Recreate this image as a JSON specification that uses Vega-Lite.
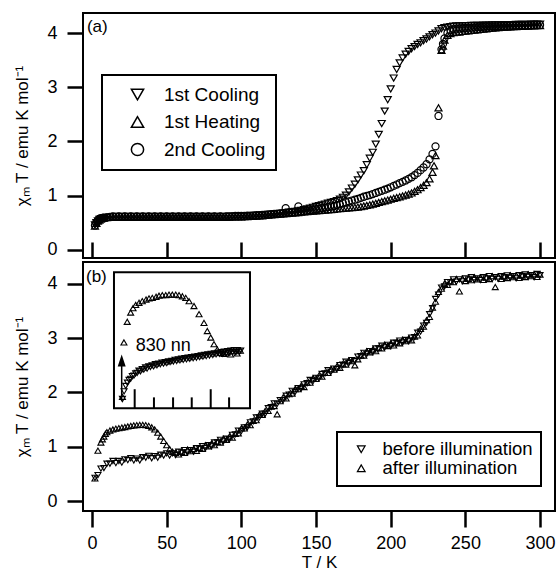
{
"$schema": "https://vega.github.io/schema/vega-lite/v6.json",
"padding": {"left": 12, "top": 12, "right": 0, "bottom": 0},
"background": "white",
"config": {
  "font": "Liberation Sans",
  "view": {"stroke": "black", "strokeWidth": 2},
  "axis": {"domain": false, "grid": false, "tickColor": "black", "tickWidth": 2.5, "tickSize": 16, "labelFontSize": 18, "labelColor": "black", "labelFont": "Liberation Sans", "titleFont": "Liberation Sans", "titleFontSize": 17, "titleFontWeight": "normal", "titleColor": "black", "format": "d"},
  "legend": {"strokeColor": "black", "strokeWidth": 2, "labelColor": "black", "labelFont": "Liberation Sans"}
},
"datasets": {
"a": [
{"T":2,"c1":0.46,"h1":0.44,"c2":0.45},
{"T":3,"c1":0.50,"h1":0.49,"c2":0.51},
{"T":4,"c1":0.535,"h1":0.53,"c2":0.54},
{"T":5,"c1":0.56,"h1":0.55,"c2":0.56},
{"T":6,"c1":0.575,"h1":0.57,"c2":0.58},
{"T":7,"c1":0.585,"h1":0.58,"c2":0.59},
{"T":8,"c1":0.59,"h1":0.585,"c2":0.595},
{"T":10,"c1":0.6,"h1":0.595,"c2":0.6},
{"T":12,"c1":0.605,"h1":0.6,"c2":0.61},
{"T":14,"c1":0.61,"h1":0.6,"c2":0.62},
{"T":16,"c1":0.615,"h1":0.605,"c2":0.61},
{"T":18,"c1":0.61,"h1":0.6,"c2":0.62},
{"T":20,"c1":0.615,"h1":0.605,"c2":0.61},
{"T":22,"c1":0.61,"h1":0.6,"c2":0.62},
{"T":24,"c1":0.615,"h1":0.605,"c2":0.61},
{"T":26,"c1":0.61,"h1":0.6,"c2":0.62},
{"T":28,"c1":0.615,"h1":0.605,"c2":0.61},
{"T":30,"c1":0.61,"h1":0.6,"c2":0.62},
{"T":32,"c1":0.615,"h1":0.605,"c2":0.61},
{"T":34,"c1":0.61,"h1":0.6,"c2":0.62},
{"T":36,"c1":0.615,"h1":0.605,"c2":0.61},
{"T":38,"c1":0.61,"h1":0.6,"c2":0.62},
{"T":40,"c1":0.615,"h1":0.605,"c2":0.61},
{"T":42,"c1":0.61,"h1":0.6,"c2":0.62},
{"T":44,"c1":0.615,"h1":0.605,"c2":0.61},
{"T":46,"c1":0.61,"h1":0.6,"c2":0.62},
{"T":48,"c1":0.615,"h1":0.605,"c2":0.61},
{"T":50,"c1":0.61,"h1":0.6,"c2":0.62},
{"T":52,"c1":0.615,"h1":0.605,"c2":0.61},
{"T":54,"c1":0.61,"h1":0.6,"c2":0.62},
{"T":56,"c1":0.615,"h1":0.605,"c2":0.61},
{"T":58,"c1":0.61,"h1":0.6,"c2":0.62},
{"T":60,"c1":0.615,"h1":0.605,"c2":0.61},
{"T":62,"c1":0.61,"h1":0.6,"c2":0.62},
{"T":64,"c1":0.615,"h1":0.605,"c2":0.61},
{"T":66,"c1":0.61,"h1":0.6,"c2":0.62},
{"T":68,"c1":0.615,"h1":0.605,"c2":0.61},
{"T":70,"c1":0.61,"h1":0.6,"c2":0.62},
{"T":72,"c1":0.615,"h1":0.605,"c2":0.61},
{"T":74,"c1":0.61,"h1":0.6,"c2":0.62},
{"T":76,"c1":0.615,"h1":0.605,"c2":0.61},
{"T":78,"c1":0.61,"h1":0.6,"c2":0.62},
{"T":80,"c1":0.615,"h1":0.605,"c2":0.61},
{"T":82,"c1":0.61,"h1":0.6,"c2":0.62},
{"T":84,"c1":0.615,"h1":0.605,"c2":0.61},
{"T":86,"c1":0.61,"h1":0.6,"c2":0.62},
{"T":88,"c1":0.615,"h1":0.605,"c2":0.61},
{"T":90,"c1":0.61,"h1":0.6,"c2":0.62},
{"T":92,"c1":0.615,"h1":0.605,"c2":0.62},
{"T":94,"c1":0.615,"h1":0.61,"c2":0.62},
{"T":96,"c1":0.62,"h1":0.61,"c2":0.625},
{"T":98,"c1":0.62,"h1":0.61,"c2":0.625},
{"T":100,"c1":0.62,"h1":0.61,"c2":0.625},
{"T":102,"c1":0.62,"h1":0.615,"c2":0.625},
{"T":104,"c1":0.625,"h1":0.615,"c2":0.63},
{"T":106,"c1":0.625,"h1":0.62,"c2":0.63},
{"T":108,"c1":0.63,"h1":0.62,"c2":0.635},
{"T":110,"c1":0.63,"h1":0.625,"c2":0.64},
{"T":112,"c1":0.635,"h1":0.63,"c2":0.64},
{"T":114,"c1":0.64,"h1":0.63,"c2":0.645},
{"T":116,"c1":0.645,"h1":0.635,"c2":0.65},
{"T":118,"c1":0.65,"h1":0.64,"c2":0.655},
{"T":120,"c1":0.655,"h1":0.645,"c2":0.66},
{"T":122,"c1":0.66,"h1":0.65,"c2":0.665},
{"T":124,"c1":0.665,"h1":0.655,"c2":0.67},
{"T":126,"c1":0.67,"h1":0.66,"c2":0.675},
{"T":128,"c1":0.675,"h1":0.665,"c2":0.68},
{"T":129.7,"c2":0.77},
{"T":130,"c1":0.68,"h1":0.67,"c2":0.685},
{"T":132,"c1":0.69,"h1":0.675,"c2":0.69},
{"T":134,"c1":0.70,"h1":0.68,"c2":0.695},
{"T":136,"c1":0.71,"h1":0.685,"c2":0.70},
{"T":138,"c1":0.72,"h1":0.69,"c2":0.705},
{"T":138.2,"c2":0.80},
{"T":140,"c1":0.73,"h1":0.695,"c2":0.71},
{"T":142,"c1":0.74,"h1":0.70,"c2":0.715},
{"T":144,"c1":0.755,"h1":0.705,"c2":0.72},
{"T":146,"c1":0.77,"h1":0.71,"c2":0.73},
{"T":148,"c1":0.785,"h1":0.715,"c2":0.74},
{"T":150,"c1":0.80,"h1":0.72,"c2":0.75},
{"T":152,"c1":0.815,"h1":0.725,"c2":0.76},
{"T":154,"c1":0.83,"h1":0.73,"c2":0.77},
{"T":156,"c1":0.845,"h1":0.735,"c2":0.78},
{"T":158,"c1":0.86,"h1":0.74,"c2":0.79},
{"T":160,"c1":0.875,"h1":0.745,"c2":0.80},
{"T":162,"c1":0.89,"h1":0.75,"c2":0.81},
{"T":164,"c1":0.91,"h1":0.755,"c2":0.825},
{"T":166,"c1":0.935,"h1":0.76,"c2":0.84},
{"T":168,"c1":0.97,"h1":0.765,"c2":0.86},
{"T":170,"c1":1.01,"h1":0.77,"c2":0.88},
{"T":172,"c1":1.07,"h1":0.775,"c2":0.895},
{"T":174,"c1":1.14,"h1":0.78,"c2":0.91},
{"T":176,"c1":1.21,"h1":0.785,"c2":0.925},
{"T":178,"c1":1.29,"h1":0.79,"c2":0.94},
{"T":180,"c1":1.38,"h1":0.80,"c2":0.96},
{"T":182,"c1":1.46,"h1":0.81,"c2":0.98},
{"T":184,"c1":1.57,"h1":0.82,"c2":0.995},
{"T":186,"c1":1.69,"h1":0.83,"c2":1.01},
{"T":188,"c1":1.80,"h1":0.845,"c2":1.03},
{"T":190,"c1":1.95,"h1":0.86,"c2":1.05},
{"T":192,"c1":2.13,"h1":0.875,"c2":1.07},
{"T":194,"c1":2.33,"h1":0.89,"c2":1.09},
{"T":196,"c1":2.56,"h1":0.905,"c2":1.11},
{"T":198,"c1":2.77,"h1":0.92,"c2":1.13},
{"T":200,"c1":2.97,"h1":0.935,"c2":1.155},
{"T":202,"c1":3.17,"h1":0.95,"c2":1.18},
{"T":204,"c1":3.33,"h1":0.965,"c2":1.205},
{"T":206,"c1":3.45,"h1":0.98,"c2":1.23},
{"T":208,"c1":3.54,"h1":0.995,"c2":1.255},
{"T":210,"c1":3.61,"h1":1.01,"c2":1.28},
{"T":212,"c1":3.66,"h1":1.03,"c2":1.31},
{"T":214,"c1":3.71,"h1":1.05,"c2":1.34},
{"T":216,"c1":3.75,"h1":1.08,"c2":1.38},
{"T":218,"c1":3.79,"h1":1.11,"c2":1.42},
{"T":220,"c1":3.82,"h1":1.15,"c2":1.47},
{"T":222,"c1":3.86,"h1":1.19,"c2":1.52},
{"T":224,"c1":3.89,"h1":1.24,"c2":1.58},
{"T":226,"c1":3.93,"h1":1.31,"c2":1.67},
{"T":228,"c1":3.97,"h1":1.43,"c2":1.77},
{"T":229,"h1":1.55},
{"T":230,"c1":4.00,"h1":1.74,"c2":1.91},
{"T":232,"c1":4.04,"h1":2.62,"c2":2.47},
{"T":234,"c1":4.08,"h1":3.68,"c2":3.70},
{"T":235,"h1":3.76,"c2":3.80},
{"T":236,"c1":4.10,"h1":3.87,"c2":3.90},
{"T":238,"c1":4.11,"h1":3.96,"c2":4.00},
{"T":240,"c1":4.12,"h1":3.99,"c2":4.05},
{"T":242,"c1":4.125,"h1":4.01,"c2":4.07},
{"T":244,"c1":4.13,"h1":4.02,"c2":4.08},
{"T":246,"c1":4.13,"h1":4.02,"c2":4.085},
{"T":248,"c1":4.13,"h1":4.03,"c2":4.09},
{"T":250,"c1":4.135,"h1":4.035,"c2":4.095},
{"T":252,"c1":4.135,"h1":4.04,"c2":4.10},
{"T":254,"c1":4.14,"h1":4.05,"c2":4.10},
{"T":256,"c1":4.14,"h1":4.055,"c2":4.105},
{"T":258,"c1":4.14,"h1":4.06,"c2":4.11},
{"T":260,"c1":4.14,"h1":4.07,"c2":4.11},
{"T":262,"c1":4.145,"h1":4.075,"c2":4.115},
{"T":264,"c1":4.145,"h1":4.08,"c2":4.12},
{"T":266,"c1":4.145,"h1":4.085,"c2":4.12},
{"T":268,"c1":4.15,"h1":4.09,"c2":4.12},
{"T":270,"c1":4.15,"h1":4.095,"c2":4.125},
{"T":272,"c1":4.15,"h1":4.10,"c2":4.125},
{"T":274,"c1":4.15,"h1":4.105,"c2":4.13},
{"T":276,"c1":4.155,"h1":4.11,"c2":4.13},
{"T":278,"c1":4.155,"h1":4.11,"c2":4.13},
{"T":280,"c1":4.155,"h1":4.115,"c2":4.135},
{"T":282,"c1":4.155,"h1":4.12,"c2":4.135},
{"T":284,"c1":4.16,"h1":4.12,"c2":4.14},
{"T":286,"c1":4.16,"h1":4.125,"c2":4.14},
{"T":288,"c1":4.16,"h1":4.125,"c2":4.14},
{"T":290,"c1":4.16,"h1":4.13,"c2":4.145},
{"T":292,"c1":4.16,"h1":4.13,"c2":4.145},
{"T":294,"c1":4.165,"h1":4.135,"c2":4.145},
{"T":296,"c1":4.165,"h1":4.135,"c2":4.15},
{"T":298,"c1":4.165,"h1":4.14,"c2":4.15},
{"T":300,"c1":4.165,"h1":4.14,"c2":4.15}
],
"b": [
{"T":2,"bf":0.43,"af":0.42},
{"T":4,"bf":0.48,"af":0.93},
{"T":6,"bf":0.60,"af":1.08},
{"T":7,"af":1.14},
{"T":8,"bf":0.61,"af":1.19},
{"T":9,"af":1.24},
{"T":10,"bf":0.69,"af":1.27},
{"T":12,"bf":0.69,"af":1.30},
{"T":14,"bf":0.74,"af":1.32},
{"T":16,"bf":0.70,"af":1.335},
{"T":18,"bf":0.74,"af":1.345},
{"T":20,"bf":0.71,"af":1.355},
{"T":22,"bf":0.77,"af":1.365},
{"T":24,"bf":0.755,"af":1.375},
{"T":26,"bf":0.79,"af":1.385},
{"T":28,"bf":0.75,"af":1.395},
{"T":30,"bf":0.785,"af":1.40},
{"T":32,"bf":0.75,"af":1.405},
{"T":34,"bf":0.81,"af":1.405},
{"T":36,"bf":0.80,"af":1.40},
{"T":38,"bf":0.835,"af":1.385},
{"T":40,"bf":0.79,"af":1.36},
{"T":42,"bf":0.83,"af":1.32},
{"T":44,"bf":0.80,"af":1.26},
{"T":46,"bf":0.855,"af":1.19},
{"T":48,"bf":0.84,"af":1.11},
{"T":50,"bf":0.88,"af":1.03},
{"T":52,"bf":0.84,"af":0.96},
{"T":54,"bf":0.88,"af":0.91},
{"T":56,"bf":0.85,"af":0.89},
{"T":58,"bf":0.91,"af":0.86},
{"T":60,"bf":0.90,"af":0.91},
{"T":62,"bf":0.94,"af":0.89},
{"T":64,"bf":0.90,"af":0.95},
{"T":66,"bf":0.94,"af":0.92},
{"T":68,"bf":0.91,"af":0.96},
{"T":70,"bf":0.975,"af":0.925},
{"T":72,"bf":0.97,"af":0.98},
{"T":74,"bf":1.015,"af":0.965},
{"T":76,"bf":0.98,"af":1.03},
{"T":78,"bf":1.03,"af":1.01},
{"T":80,"bf":1.01,"af":1.06},
{"T":82,"bf":1.08,"af":1.03},
{"T":84,"bf":1.08,"af":1.09},
{"T":86,"bf":1.13,"af":1.08},
{"T":88,"bf":1.10,"af":1.15},
{"T":90,"bf":1.15,"af":1.13},
{"T":92,"bf":1.14,"af":1.19},
{"T":94,"bf":1.22,"af":1.17},
{"T":96,"bf":1.23,"af":1.24},
{"T":98,"bf":1.30,"af":1.25},
{"T":100,"bf":1.29,"af":1.34},
{"T":102,"bf":1.36,"af":1.34},
{"T":104,"bf":1.36,"af":1.41},
{"T":106,"bf":1.45,"af":1.40},
{"T":108,"bf":1.47,"af":1.48},
{"T":110,"bf":1.54,"af":1.49},
{"T":112,"bf":1.54,"af":1.59},
{"T":114,"bf":1.61,"af":1.59},
{"T":116,"bf":1.61,"af":1.66},
{"T":118,"bf":1.71,"af":1.66},
{"T":120,"bf":1.73,"af":1.74},
{"T":122,"bf":1.80,"af":1.75},
{"T":124,"bf":1.79,"af":1.60},
{"T":126,"bf":1.86,"af":1.84},
{"T":128,"bf":1.86,"af":1.91},
{"T":130,"bf":1.94,"af":1.89},
{"T":132,"bf":1.96,"af":1.97},
{"T":134,"bf":2.03,"af":1.98},
{"T":136,"bf":2.01,"af":2.06},
{"T":138,"bf":2.08,"af":2.06},
{"T":140,"bf":2.07,"af":2.12},
{"T":142,"bf":2.15,"af":2.10},
{"T":144,"bf":2.17,"af":2.18},
{"T":146,"bf":2.23,"af":2.18},
{"T":148,"bf":2.21,"af":2.26},
{"T":150,"bf":2.27,"af":2.25},
{"T":152,"bf":2.26,"af":2.31},
{"T":154,"bf":2.34,"af":2.29},
{"T":156,"bf":2.35,"af":2.36},
{"T":158,"bf":2.41,"af":2.36},
{"T":160,"bf":2.38,"af":2.43},
{"T":162,"bf":2.44,"af":2.42},
{"T":164,"bf":2.43,"af":2.48},
{"T":166,"bf":2.505,"af":2.455},
{"T":168,"bf":2.51,"af":2.52},
{"T":170,"bf":2.565,"af":2.515},
{"T":172,"bf":2.54,"af":2.59},
{"T":174,"bf":2.595,"af":2.575},
{"T":176,"bf":2.58,"af":2.50},
{"T":178,"bf":2.66,"af":2.61},
{"T":180,"bf":2.67,"af":2.68},
{"T":182,"bf":2.73,"af":2.68},
{"T":184,"bf":2.71,"af":2.76},
{"T":186,"bf":2.76,"af":2.74},
{"T":188,"bf":2.74,"af":2.79},
{"T":190,"bf":2.81,"af":2.76},
{"T":192,"bf":2.81,"af":2.82},
{"T":194,"bf":2.86,"af":2.81},
{"T":196,"bf":2.83,"af":2.88},
{"T":198,"bf":2.875,"af":2.855},
{"T":200,"bf":2.85,"af":2.90},
{"T":202,"bf":2.915,"af":2.865},
{"T":204,"bf":2.91,"af":2.92},
{"T":206,"bf":2.955,"af":2.905},
{"T":208,"bf":2.92,"af":2.97},
{"T":210,"bf":2.965,"af":2.945},
{"T":212,"bf":2.94,"af":2.99},
{"T":214,"bf":3.01,"af":2.96},
{"T":216,"bf":3.02,"af":3.03},
{"T":218,"bf":3.10,"af":3.05},
{"T":220,"bf":3.12,"af":3.17},
{"T":222,"bf":3.23,"af":3.21},
{"T":224,"bf":3.28,"af":3.33},
{"T":226,"bf":3.44,"af":3.39},
{"T":228,"bf":3.55,"af":3.56},
{"T":230,"bf":3.72,"af":3.67},
{"T":232,"bf":3.80,"af":3.85},
{"T":234,"bf":3.93,"af":3.91},
{"T":236,"bf":3.95,"af":4.00},
{"T":238,"bf":4.03,"af":3.98},
{"T":240,"bf":4.03,"af":4.04},
{"T":242,"bf":4.08,"af":4.03},
{"T":244,"bf":4.04,"af":4.09},
{"T":246,"bf":4.08,"af":3.86},
{"T":248,"bf":4.045,"af":4.095},
{"T":250,"bf":4.10,"af":4.05},
{"T":252,"bf":4.08,"af":4.09},
{"T":254,"bf":4.12,"af":4.066},
{"T":256,"bf":4.07,"af":4.12},
{"T":258,"bf":4.10,"af":4.083},
{"T":260,"bf":4.07,"af":4.116},
{"T":262,"bf":4.12,"af":4.07},
{"T":264,"bf":4.10,"af":4.112},
{"T":266,"bf":4.14,"af":4.086},
{"T":268,"bf":4.09,"af":4.139},
{"T":270,"bf":4.12,"af":3.94},
{"T":272,"bf":4.09,"af":4.135},
{"T":274,"bf":4.14,"af":4.088},
{"T":276,"bf":4.12,"af":4.132},
{"T":278,"bf":4.155,"af":4.105},
{"T":280,"bf":4.11,"af":4.158},
{"T":282,"bf":4.14,"af":4.121},
{"T":284,"bf":4.10,"af":4.154},
{"T":286,"bf":4.16,"af":4.108},
{"T":288,"bf":4.14,"af":4.151},
{"T":290,"bf":4.17,"af":4.124},
{"T":292,"bf":4.13,"af":4.177},
{"T":294,"bf":4.16,"af":4.14},
{"T":296,"bf":4.12,"af":4.174},
{"T":298,"bf":4.18,"af":4.127},
{"T":300,"bf":4.16,"af":4.17}
],
"ins": [
{"T":20.4,"v":1.92,"k":"af"},
{"T":21.4,"v":2.92,"k":"af"},
{"T":23.6,"v":3.30,"k":"af"},
{"T":25.9,"v":3.47,"k":"af"},
{"T":27.5,"v":3.55,"k":"af"},
{"T":29.3,"v":3.61,"k":"af"},
{"T":31.5,"v":3.65,"k":"af"},
{"T":33.7,"v":3.68,"k":"af"},
{"T":36.2,"v":3.71,"k":"af"},
{"T":38.2,"v":3.73,"k":"af"},
{"T":40.4,"v":3.74,"k":"af"},
{"T":42.9,"v":3.76,"k":"af"},
{"T":44.9,"v":3.78,"k":"af"},
{"T":47.1,"v":3.79,"k":"af"},
{"T":49.4,"v":3.79,"k":"af"},
{"T":51.6,"v":3.80,"k":"af"},
{"T":53.8,"v":3.80,"k":"af"},
{"T":56.1,"v":3.80,"k":"af"},
{"T":58.3,"v":3.79,"k":"af"},
{"T":60.5,"v":3.77,"k":"af"},
{"T":62.8,"v":3.74,"k":"af"},
{"T":65.0,"v":3.68,"k":"af"},
{"T":68.3,"v":3.59,"k":"af"},
{"T":71.7,"v":3.44,"k":"af"},
{"T":75.0,"v":3.28,"k":"af"},
{"T":77.2,"v":3.13,"k":"af"},
{"T":79.5,"v":3.01,"k":"af"},
{"T":81.7,"v":2.89,"k":"af"},
{"T":83.9,"v":2.79,"k":"af"},
{"T":86.2,"v":2.73,"k":"af"},
{"T":88.4,"v":2.71,"k":"af"},
{"T":90.6,"v":2.74,"k":"af"},
{"T":92.8,"v":2.70,"k":"af"},
{"T":95.0,"v":2.76,"k":"af"},
{"T":97.2,"v":2.72,"k":"af"},
{"T":99.4,"v":2.77,"k":"af"},
{"T":20.4,"v":1.88,"k":"bf"},
{"T":21.5,"v":2.02,"k":"bf"},
{"T":22.6,"v":2.12,"k":"bf"},
{"T":23.7,"v":2.18,"k":"bf"},
{"T":24.8,"v":2.23,"k":"bf"},
{"T":25.9,"v":2.25,"k":"bf"},
{"T":27.0,"v":2.30,"k":"bf"},
{"T":28.1,"v":2.31,"k":"bf"},
{"T":29.2,"v":2.35,"k":"bf"},
{"T":30.3,"v":2.36,"k":"bf"},
{"T":31.4,"v":2.40,"k":"bf"},
{"T":32.5,"v":2.39,"k":"bf"},
{"T":33.6,"v":2.43,"k":"bf"},
{"T":34.7,"v":2.42,"k":"bf"},
{"T":35.8,"v":2.46,"k":"bf"},
{"T":36.9,"v":2.44,"k":"bf"},
{"T":38.0,"v":2.48,"k":"bf"},
{"T":39.1,"v":2.47,"k":"bf"},
{"T":40.2,"v":2.50,"k":"bf"},
{"T":41.3,"v":2.48,"k":"bf"},
{"T":42.4,"v":2.52,"k":"bf"},
{"T":43.5,"v":2.50,"k":"bf"},
{"T":44.6,"v":2.53,"k":"bf"},
{"T":45.7,"v":2.52,"k":"bf"},
{"T":46.8,"v":2.55,"k":"bf"},
{"T":47.9,"v":2.53,"k":"bf"},
{"T":49.0,"v":2.56,"k":"bf"},
{"T":50.1,"v":2.54,"k":"bf"},
{"T":51.2,"v":2.57,"k":"bf"},
{"T":52.3,"v":2.56,"k":"bf"},
{"T":53.4,"v":2.58,"k":"bf"},
{"T":54.5,"v":2.57,"k":"bf"},
{"T":55.6,"v":2.60,"k":"bf"},
{"T":56.7,"v":2.58,"k":"bf"},
{"T":57.8,"v":2.61,"k":"bf"},
{"T":58.9,"v":2.59,"k":"bf"},
{"T":60.0,"v":2.62,"k":"bf"},
{"T":61.1,"v":2.60,"k":"bf"},
{"T":62.2,"v":2.63,"k":"bf"},
{"T":63.3,"v":2.61,"k":"bf"},
{"T":64.4,"v":2.64,"k":"bf"},
{"T":65.5,"v":2.62,"k":"bf"},
{"T":66.6,"v":2.65,"k":"bf"},
{"T":67.7,"v":2.63,"k":"bf"},
{"T":68.8,"v":2.66,"k":"bf"},
{"T":69.9,"v":2.64,"k":"bf"},
{"T":71.0,"v":2.67,"k":"bf"},
{"T":72.1,"v":2.65,"k":"bf"},
{"T":73.2,"v":2.68,"k":"bf"},
{"T":74.3,"v":2.66,"k":"bf"},
{"T":75.4,"v":2.69,"k":"bf"},
{"T":76.5,"v":2.67,"k":"bf"},
{"T":77.6,"v":2.70,"k":"bf"},
{"T":78.7,"v":2.68,"k":"bf"},
{"T":79.8,"v":2.71,"k":"bf"},
{"T":80.9,"v":2.69,"k":"bf"},
{"T":82.0,"v":2.72,"k":"bf"},
{"T":83.1,"v":2.70,"k":"bf"},
{"T":84.2,"v":2.73,"k":"bf"},
{"T":85.3,"v":2.71,"k":"bf"},
{"T":86.4,"v":2.74,"k":"bf"},
{"T":87.5,"v":2.71,"k":"bf"},
{"T":88.6,"v":2.75,"k":"bf"},
{"T":89.7,"v":2.72,"k":"bf"},
{"T":90.8,"v":2.76,"k":"bf"},
{"T":91.9,"v":2.73,"k":"bf"},
{"T":93.0,"v":2.77,"k":"bf"},
{"T":94.1,"v":2.74,"k":"bf"},
{"T":95.2,"v":2.78,"k":"bf"},
{"T":96.3,"v":2.74,"k":"bf"},
{"T":97.4,"v":2.78,"k":"bf"},
{"T":98.5,"v":2.75,"k":"bf"},
{"T":99.6,"v":2.77,"k":"bf"}
],
"tk": [
{"T":28.6,"y1":1.71,"y2":2.06},
{"T":41.5,"y1":1.71,"y2":1.91},
{"T":54.3,"y1":1.71,"y2":1.91},
{"T":66.8,"y1":1.71,"y2":1.91},
{"T":79.5,"y1":1.71,"y2":2.06},
{"T":91.8,"y1":1.71,"y2":1.91}
]
},
"spacing": 0,
"resolve": {"scale": {"shape": "independent"}, "legend": {"shape": "independent"}},
"vconcat": [
{
  "width": 472, "height": 245,
  "layer": [
    {
      "data": {"name": "a"},
      "transform": [{"fold": ["c1", "h1", "c2"], "as": ["s", "v"]}, {"filter": "isValid(datum.v)"}],
      "mark": {"type": "point", "filled": false, "color": "black", "strokeWidth": 1.2, "size": 50, "opacity": 1},
      "encoding": {
        "x": {"field": "T", "type": "quantitative", "scale": {"domain": [-6, 310], "nice": false, "zero": false}, "axis": {"values": [0, 50, 100, 150, 200, 250, 300], "labels": false, "tickSize": -16, "title": null}},
        "y": {"field": "v", "type": "quantitative", "scale": {"domain": [-0.15, 4.37], "nice": false, "zero": false}, "axis": {"values": [0, 1, 2, 3, 4], "labelPadding": 10, "titlePadding": 15, "title": "χₘ T / emu K mol⁻¹"}},
        "shape": {"field": "s", "type": "nominal", "scale": {"domain": ["c1", "h1", "c2"], "range": ["triangle-down", "triangle-up", "circle"]},
          "legend": {"title": null, "orient": "none", "legendX": 19, "legendY": 62, "padding": 10, "symbolSize": 150, "symbolStrokeWidth": 1.5, "symbolStrokeColor": "black", "symbolFillColor": "transparent", "symbolOffset": 16, "labelOffset": 17, "labelFontSize": 19, "rowPadding": 7.5,
            "labelExpr": "datum.label == 'c1' ? '1st Cooling' : datum.label == 'h1' ? '1st Heating' : '2nd Cooling'"}}
      }
    },
    {
      "data": {"values": [{}]},
      "mark": {"type": "text", "align": "left", "baseline": "middle", "fontSize": 17, "font": "Liberation Sans", "color": "black"},
      "encoding": {"x": {"datum": -3.4, "type": "quantitative"}, "y": {"datum": 4.11, "type": "quantitative"}, "text": {"value": "(a)"}}
    }
  ]
},
{
  "width": 472, "height": 249,
  "layer": [
    {
      "data": {"name": "b"},
      "transform": [{"fold": ["bf", "af"], "as": ["k", "v"]}, {"filter": "isValid(datum.v)"}],
      "mark": {"type": "point", "filled": false, "color": "black", "strokeWidth": 1.1, "size": 36, "opacity": 1},
      "encoding": {
        "x": {"field": "T", "type": "quantitative", "scale": {"domain": [-6, 310], "nice": false, "zero": false}, "axis": {"values": [0, 50, 100, 150, 200, 250, 300], "labelPadding": 7, "titlePadding": 2, "title": "T / K"}},
        "y": {"field": "v", "type": "quantitative", "scale": {"domain": [-0.18, 4.4], "nice": false, "zero": false}, "axis": {"values": [0, 1, 2, 3, 4], "labelPadding": 10, "titlePadding": 15, "title": "χₘ T / emu K mol⁻¹"}},
        "shape": {"field": "k", "type": "nominal", "scale": {"domain": ["bf", "af"], "range": ["triangle-down", "triangle-up"]},
          "legend": {"title": null, "orient": "none", "legendX": 254, "legendY": 170, "padding": 8, "symbolSize": 60, "symbolStrokeWidth": 1.2, "symbolStrokeColor": "black", "symbolFillColor": "transparent", "symbolOffset": 7, "labelOffset": 12, "labelFontSize": 18.5, "rowPadding": 0,
            "labelExpr": "datum.label == 'bf' ? 'before illumination' : 'after illumination'"}}
      }
    },
    {
      "data": {"name": "ins"},
      "mark": {"type": "point", "filled": false, "color": "black", "strokeWidth": 1.1, "size": 36, "opacity": 1},
      "encoding": {
        "x": {"field": "T", "type": "quantitative"},
        "y": {"field": "v", "type": "quantitative"},
        "shape": {"field": "k", "type": "nominal"}
      }
    },
    {
      "data": {"values": [{}]},
      "mark": {"type": "rect", "fill": "transparent", "stroke": "black", "strokeWidth": 2},
      "encoding": {"x": {"datum": 14.74, "type": "quantitative"}, "x2": {"datum": 105.8}, "y": {"datum": 1.71, "type": "quantitative"}, "y2": {"datum": 4.21}}
    },
    {
      "data": {"name": "tk"},
      "mark": {"type": "rule", "color": "black", "strokeWidth": 2},
      "encoding": {"x": {"field": "T", "type": "quantitative"}, "y": {"field": "y1", "type": "quantitative"}, "y2": {"field": "y2"}}
    },
    {
      "data": {"values": [{}]},
      "mark": {"type": "rule", "color": "black", "strokeWidth": 1.5},
      "encoding": {"x": {"datum": 19.9, "type": "quantitative"}, "y": {"datum": 1.84, "type": "quantitative"}, "y2": {"datum": 2.55}}
    },
    {
      "data": {"values": [{}]},
      "mark": {"type": "point", "filled": true, "color": "black", "opacity": 1, "size": 256, "shape": "M-0.5,0.75L0,-0.75L0.5,0.75Z"},
      "encoding": {"x": {"datum": 19.9, "type": "quantitative"}, "y": {"datum": 2.59, "type": "quantitative"}}
    },
    {
      "data": {"values": [{}]},
      "mark": {"type": "text", "align": "left", "baseline": "middle", "fontSize": 18, "font": "Liberation Sans", "color": "black"},
      "encoding": {"x": {"datum": 29.3, "type": "quantitative"}, "y": {"datum": 2.855, "type": "quantitative"}, "text": {"value": "830 nn"}}
    },
    {
      "data": {"values": [{}]},
      "mark": {"type": "text", "align": "left", "baseline": "middle", "fontSize": 17, "font": "Liberation Sans", "color": "black"},
      "encoding": {"x": {"datum": -4, "type": "quantitative"}, "y": {"datum": 4.12, "type": "quantitative"}, "text": {"value": "(b)"}}
    }
  ]
}
]
}
